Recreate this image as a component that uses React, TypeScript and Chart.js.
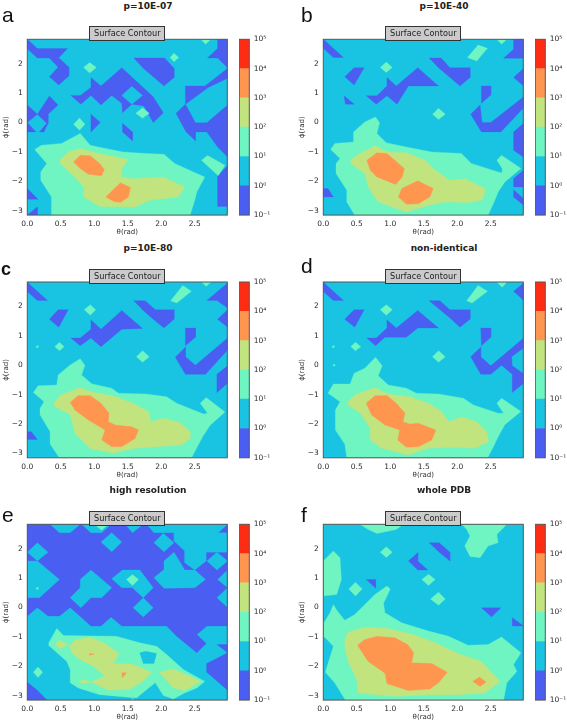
import React, { useEffect, useRef } from "react";
import { Chart, registerables } from "chart.js";

Chart.register(...registerables);

type Poly = number[][];

const xTicks = [0, 0.5, 1, 1.5, 2, 2.5];
const yTicks = [-3, -2, -1, 0, 1, 2];
const thetaRange = [0, 2.985];
const phiRange = [-3.145, 2.825];
const levels = [0.1, 1, 10, 100, 1000, 10000, 100000];
const superscripts = ["10⁻¹", "10⁰", "10¹", "10²", "10³", "10⁴", "10⁵"];
const levelColors = ["#4a5ef2", "#19c4e2", "#6ef5c2", "#c2e47e", "#ff9650", "#ff2c14"];

const titles = ["p=10E-07", "p=10E-40", "p=10E-80", "non-identical", "high resolution", "whole PDB"];
const letters = ["a", "b", "c", "d", "e", "f"];

const aBlue: Poly[] = [
  [[0,2.83],[.15,2.51],[.6,2.51],[.47,2.2],[.62,1.88],[.62,1.58],[.47,1.27],[.33,1.55],[.46,1.88],[.33,2.19],[.15,2.19],[0,2.5]],
  [[.65,.92],[.79,.92],[.95,1.19],[.95,1.53],[1.1,1.24],[1.41,1.86],[1.88,.87],[2.03,.33],[1.88,-.01],[1.74,.56],[1.56,.62],[1.42,.33],[1.41,.65],[1.26,.92],[1.1,.59],[.95,.92],[.8,.62]],
  [[1.59,2.19],[2.05,2.19],[2.19,1.84],[2.19,1.53],[2.04,1.24],[1.88,1.55],[1.73,1.84]],
  [[2.36,1.24],[2.65,1.24],[2.83,1.55],[2.99,1.84],[2.99,1.5],[2.7,1.19],[2.36,.62],[2.51,-.01],[2.68,-.01],[2.99,.59],[2.99,-1.17],[2.84,-.83],[2.68,-.32],[2.51,-.32],[2.51,-.62],[2.37,-.32],[2.22,.31],[2.36,.62]],
  [[2.84,2.83],[2.99,2.83],[2.99,1.86],[2.84,2.19],[2.69,2.19],[2.84,2.51]],
  [[0,.59],[.15,.28],[0,0]],
  [[.15,.28],[.33,.9],[.46,.59],[.31,.28],[.31,-.03],[.25,-.32],[.18,-.32],[.29,-.03]],
  [[0,0],[.13,-.32],[0,-.32]],
  [[.95,.28],[1.09,0],[.95,-.32]],
  [[1.42,-.03],[1.57,-.32],[1.57,-.62],[1.42,-.32]],
  [[2.84,-1.81],[2.99,-1.47],[2.99,-2.85],[2.84,-2.85]],
  [[0,-2.24],[.16,-2.61],[0,-2.61]],
  [[0,-3.14],[.15,-2.87],[.15,-3.14]],
];
const aHoles: Poly[] = [[[1.56,1.23],[1.72,.92],[1.56,.62],[1.41,.92]]];
const aGreen: Poly[] = [
  [[1.72,.5],[1.82,.31],[1.72,.14],[1.62,.31]],
  [[2.13,2.21],[2.19,2.35],[2.26,2.21],[2.19,2.06]],
  [[.84,1.87],[.93,2.04],[1.03,1.87],[.93,1.68]],
  [[2.59,2.83],[2.74,2.83],[2.66,2.66]],
  [[.69,-.06],[.78,.15],[.86,-.06],[.78,-.26]],
  [[.11,-.92],[.21,-.77],[.51,-.71],[.79,-.37],[.94,-.77],[1.06,-.83],[1.43,-1.0],[1.78,-1.05],[2.04,-1.08],[2.2,-1.39],[2.53,-1.73],[2.65,-1.85],[2.53,-2.36],[2.5,-2.64],[2.43,-3.15],[.36,-3.15],[.36,-2.53],[.2,-1.96],[.2,-1.68],[.29,-1.39]],
  [[2.6,-1.28],[2.69,-1.12],[2.95,-1.45],[2.85,-1.81]],
];
const aLime: Poly[] = [
  [[.49,-1.28],[.61,-1.0],[.79,-.88],[1.08,-1.05],[1.51,-1.26],[1.41,-1.56],[1.41,-1.85],[1.58,-1.91],[2.03,-1.85],[2.35,-2.19],[2.25,-2.53],[1.83,-2.64],[1.61,-2.87],[1.08,-2.85],[.84,-2.53],[.84,-2.19],[.71,-1.85],[.49,-1.39]],
];
const aOrange: Poly[] = [
  [[.69,-1.34],[.79,-1.11],[.94,-1.13],[1.08,-1.39],[1.15,-1.6],[1.11,-1.81],[.91,-1.76],[.79,-1.56]],
  [[1.17,-2.53],[1.39,-2.05],[1.54,-2.21],[1.51,-2.53],[1.39,-2.72],[1.29,-2.68]],
];

const bBlue: Poly[] = [
  [[0,2.83],[.3,2.21],[.15,2.21],[0,2.52]],
  [[.32,1.55],[.46,1.86],[.61,1.86],[.46,1.27]],
  [[.31,.91],[.46,.62],[.33,.62]],
  [[.64,.91],[.8,.91],[.95,1.24],[.95,1.53],[1.09,1.24],[1.41,1.86],[1.72,1.24],[1.27,1.24],[1.1,.62],[.95,.91],[.79,.62]],
  [[1.58,2.19],[1.76,2.19],[1.89,1.86],[2.19,1.86],[2.19,1.53],[2.04,1.24],[1.89,1.53],[1.72,1.86]],
  [[2.36,1.24],[2.5,1.24],[2.5,.93],[2.36,.65]],
  [[2.84,2.83],[2.99,2.83],[2.99,2.18],[2.69,2.18],[2.84,2.49]],
  [[2.84,1.53],[2.99,1.84],[2.99,1.24]],
  [[2.2,.28],[2.34,.59],[2.37,0],[2.5,0],[2.99,.87],[2.99,.5],[2.65,-.32],[2.36,-.32]],
  [[2.84,-.32],[2.99,-.03],[2.99,-1.18],[2.84,-.94]],
  [[2.84,-1.9],[2.99,-1.62],[2.99,-2.19],[2.84,-2.19]],
  [[2.84,-2.28],[2.99,-2.59],[2.99,-2.81],[2.84,-2.53]],
  [[0,-2.24],[.07,-2.24],[.15,-2.53],[0,-2.53]],
];
const bGreen: Poly[] = [
  [[2.15,2.21],[2.31,2.63],[2.45,2.52],[2.29,2.09]],
  [[2.59,2.83],[2.74,2.83],[2.66,2.66]],
  [[.85,1.87],[.94,2.05],[1.03,1.87],[.94,1.7]],
  [[1.63,.28],[1.72,.48],[1.82,.28],[1.72,.1]],
  [[.11,-.92],[.17,-.71],[.45,-.66],[.45,-.32],[.62,.02],[.78,.19],[.84,-.01],[.8,-.37],[.94,-.69],[1.24,-.83],[1.62,-1.0],[2.06,-1.05],[2.21,-1.39],[2.61,-1.68],[2.67,-1.71],[2.67,-1.56],[2.59,-1.28],[2.66,-1.11],[2.95,-1.56],[2.71,-2.02],[2.61,-2.36],[2.56,-2.64],[2.46,-3.15],[.47,-3.15],[.35,-2.7],[.35,-2.3],[.19,-1.73],[.19,-1.39],[.25,-1.22]],
];
const bLime: Poly[] = [
  [[.41,-1.28],[.5,-1.11],[.77,-.79],[.97,-1.0],[1.24,-1.03],[1.52,-1.28],[1.67,-1.62],[1.82,-1.85],[1.87,-1.96],[2.11,-1.91],[2.41,-2.24],[2.41,-2.41],[2.36,-2.64],[2.16,-2.72],[1.82,-2.7],[1.57,-2.81],[1.24,-3.04],[.82,-2.7],[.67,-2.19],[.62,-1.73],[.41,-1.39]],
];
const bOrange: Poly[] = [
  [[.65,-1.28],[.8,-1.03],[.95,-1.05],[1.21,-1.56],[1.18,-1.85],[1.08,-2.11],[.8,-1.85],[.7,-1.62]],
  [[1.12,-2.53],[1.17,-2.24],[1.41,-1.98],[1.64,-2.24],[1.59,-2.53],[1.42,-2.76],[1.24,-2.78]],
];

const cBlue: Poly[] = [
  [[0,2.82],[.3,2.2],[.15,2.2],[0,2.5]],
  [[.33,1.56],[.46,1.88],[.61,1.88],[.47,1.29]],
  [[.65,.92],[.79,.92],[.95,1.22],[.95,1.54],[1.1,1.22],[1.41,1.86],[1.72,1.25],[1.41,1.22],[1.1,.63],[.95,.92],[.79,.66]],
  [[1.59,2.19],[1.76,2.19],[1.91,1.88],[2.19,1.88],[2.19,1.56],[2.04,1.26],[1.88,1.56],[1.73,1.86]],
  [[2.36,1.26],[2.51,1.26],[2.51,.95],[2.36,.66]],
  [[2.21,.27],[2.36,.61],[2.36,.29],[2.51,0],[2.99,.92],[2.99,.52],[2.66,-.31],[2.36,-.31]],
  [[2.68,2.2],[2.99,2.79],[2.99,1.94],[2.83,2.2]],
  [[2.84,1.56],[2.99,1.88],[2.99,1.29]],
  [[2.83,-.31],[2.99,-.02],[2.99,-.61],[2.83,-.93]],
  [[0,-2.26],[.06,-2.26],[.15,-2.52],[0,-2.52]],
];
const cGreen: Poly[] = [
  [[2.14,2.19],[2.32,2.71],[2.45,2.51],[2.23,2.11]],
  [[2.6,2.82],[2.74,2.82],[2.67,2.68]],
  [[.85,1.88],[.94,2.05],[1.02,1.88],[.94,1.7]],
  [[.41,.63],[.48,.78],[.55,.63],[.48,.49]],
  [[.13,.63],[.15,.68],[.17,.63],[.15,.58]],
  [[1.63,.29],[1.72,.49],[1.82,.29],[1.72,.1]],
  [[.09,-.93],[.16,-.7],[.44,-.67],[.46,-.33],[.64,.01],[.79,.22],[.86,-.01],[.81,-.33],[.96,-.63],[1.26,-.78],[1.36,-.95],[1.78,-.98],[2.08,-1.07],[2.23,-1.29],[2.63,-1.66],[2.69,-1.63],[2.58,-1.29],[2.67,-1.1],[2.95,-1.59],[2.73,-2.04],[2.63,-2.38],[2.55,-2.72],[2.45,-3.15],[.48,-3.15],[.34,-2.68],[.34,-2.26],[.19,-1.68],[.19,-1.46],[.25,-1.24]],
];
const cLime: Poly[] = [
  [[.4,-1.27],[.5,-1.01],[.79,-.76],[.98,-.92],[1.28,-1.04],[1.58,-1.29],[1.81,-1.58],[1.84,-1.92],[2.03,-1.8],[2.28,-1.95],[2.43,-2.26],[2.43,-2.49],[2.3,-2.71],[1.93,-2.77],[1.58,-2.83],[1.28,-2.99],[.94,-2.83],[.71,-2.31],[.64,-1.68],[.4,-1.39]],
];
const cOrange: Poly[] = [
  [[.64,-1.27],[.76,-1.03],[.94,-1.04],[1.1,-1.29],[1.22,-1.63],[1.21,-1.92],[1.31,-2.03],[1.56,-2.09],[1.66,-2.2],[1.61,-2.49],[1.41,-2.77],[1.26,-2.77],[1.11,-2.54],[1.16,-2.2],[.91,-1.86],[.71,-1.52]],
];

const dBlue: Poly[] = [
  [[0,2.82],[.3,2.2],[.15,2.2],[0,2.5]],
  [[.32,1.56],[.46,1.88],[.61,1.88],[.47,1.29]],
  [[.65,.92],[.79,.92],[.95,1.26],[.95,1.54],[1.09,1.26],[1.41,1.86],[1.72,1.26],[1.41,1.26],[1.24,.95],[.92,.95],[.78,.66]],
  [[1.58,2.19],[1.74,2.19],[1.89,1.88],[2.19,1.88],[2.19,1.56],[2.04,1.29],[1.89,1.6]],
  [[2.35,1.26],[2.5,1.26],[2.5,.95],[2.36,.66]],
  [[2.2,.29],[2.35,.61],[2.35,.29],[2.5,-.02],[2.99,.92],[2.99,.58],[2.81,.29],[2.82,-.02],[2.99,-.29],[2.99,-.61],[2.82,-.93],[2.82,-.31],[2.66,0],[2.5,-.31],[2.35,-.31]],
  [[2.84,2.51],[2.99,2.79],[2.99,2.2]],
];
const dGreen: Poly[] = [
  [[2.14,2.19],[2.31,2.71],[2.45,2.51],[2.22,2.11]],
  [[2.59,2.82],[2.74,2.82],[2.67,2.65]],
  [[.85,1.88],[.94,2.05],[1.03,1.88],[.94,1.7]],
  [[.41,.63],[.48,.78],[.56,.63],[.48,.49]],
  [[.13,.63],[.15,.68],[.17,.63],[.15,.58]],
  [[.14,0],[.16,.04],[.18,0],[.16,-.04]],
  [[1.63,.29],[1.72,.49],[1.82,.29],[1.72,.1]],
  [[.07,-.95],[.15,-.64],[.4,-.64],[.46,-.27],[.62,-.1],[.78,.27],[.88,-.02],[.82,-.36],[.97,-.67],[1.24,-.78],[1.39,-.95],[1.72,-.98],[2.09,-1.12],[2.24,-1.35],[2.61,-1.63],[2.69,-1.63],[2.59,-1.29],[2.66,-1.12],[2.95,-1.57],[2.71,-2.02],[2.61,-2.43],[2.54,-2.77],[2.45,-3.15],[.35,-3.15],[.32,-2.68],[.18,-2.2],[.18,-1.52],[.25,-1.24]],
];
const dLime: Poly[] = [
  [[.37,-1.24],[.47,-1.01],[.77,-.76],[.97,-.98],[1.29,-1.07],[1.57,-1.29],[1.77,-1.58],[1.87,-1.92],[2.06,-1.75],[2.29,-1.92],[2.44,-2.26],[2.47,-2.6],[2.26,-2.82],[1.92,-2.79],[1.57,-2.82],[1.27,-3.05],[.87,-2.82],[.7,-2.54],[.7,-2.14],[.55,-1.63],[.37,-1.35]],
];
const dOrange: Poly[] = [
  [[.64,-1.29],[.77,-1.04],[.95,-1.03],[1.09,-1.29],[1.22,-1.63],[1.19,-1.92],[1.29,-2.0],[1.42,-1.97],[1.68,-2.2],[1.62,-2.54],[1.42,-2.77],[1.24,-2.79],[1.11,-2.54],[1.14,-2.2],[.92,-2.03],[.72,-1.69]],
];

const eBlue: Poly[] = [
  [[0,2.83],[2.99,2.83],[2.99,-.63],[2.68,-.63],[2.53,-.92],[2.67,-1.22],[2.53,-1.54],[2.23,-.98],[2.08,-.63],[1.41,-.63],[1.25,-.32],[1.1,-.63],[.95,-.63],[.8,-.32],[.64,0],[.48,-.29],[.31,-.29],[.15,0],[0,-.29]],
  [[2.83,-1.26],[2.99,-1.26],[2.99,-1.54]],
  [[2.99,-1.54],[2.68,-1.9],[2.68,-2.2],[2.99,-2.81]],
  [[0,-2.54],[.15,-2.81],[.29,-3.14],[0,-3.14]],
];
const eHoles: Poly[] = [
  [[0,1.58],[.15,1.58],[.48,.95],[.18,.33],[0,.33]],
  [[0,1.88],[.15,2.2],[.31,1.88],[.15,1.58]],
  [[.34,2.83],[.48,2.54],[.64,2.54],[.79,2.83]],
  [[.81,2.83],[.95,2.54],[1.11,2.54],[1.25,2.83]],
  [[1.46,2.83],[1.57,2.54],[1.73,2.83]],
  [[1.78,2.83],[1.89,2.54],[2.19,2.54],[2.19,2.26],[2.35,1.92],[2.35,1.52],[2.5,1.27],[2.67,1.58],[2.67,1.88],[2.99,1.88],[2.99,2.54],[2.85,2.54],[2.99,2.83]],
  [[2.68,1.58],[2.83,1.88],[2.99,1.58],[2.83,1.27]],
  [[1.1,2.22],[1.26,2.54],[1.41,2.22],[1.26,1.89]],
  [[1.89,2.2],[2.03,2.52],[2.19,2.2],[2.04,1.89]],
  [[1.89,1.01],[2.04,1.29],[2.04,1.58],[2.19,1.88],[2.35,1.27],[2.5,1.27],[2.66,.95],[2.5,.67],[2.04,.65]],
  [[1.26,.98],[1.42,1.27],[1.68,1.27],[1.88,.67],[1.73,.33],[1.57,.67],[1.41,.67]],
  [[.64,.33],[.79,.67],[.79,.95],[.95,1.27],[1.26,.67],[1.11,.33],[.95,.33],[.8,-.01]],
  [[1.58,-.01],[1.73,.33],[1.88,-.01],[1.73,-.32]],
  [[2.84,.95],[2.99,1.27],[2.99,0],[2.83,.33],[2.99,.67]],
];
const eGreen: Poly[] = [
  [[.32,-1.2],[.44,-.71],[.54,-.95],[1.33,-.98],[1.68,-1.2],[1.93,-1.32],[2.08,-1.6],[2.33,-2.11],[2.65,-2.51],[2.53,-2.73],[2.35,-2.9],[2.18,-3.11],[2.03,-2.99],[1.91,-2.56],[1.78,-2.79],[1.63,-3.07],[1.08,-2.96],[.76,-2.73],[.64,-2.56],[.64,-2.11],[.59,-1.83],[.32,-1.29]],
  [[.09,-2.2],[.16,-2.02],[.23,-2.2],[.16,-2.38]],
  [[1.48,.95],[1.57,1.12],[1.66,.95],[1.57,.75]],
  [[1.03,2.77],[1.11,2.62],[1.18,2.77]],
  [[.13,.65],[.15,.7],[.17,.65],[.15,.6]],
  [[1.55,-3.14],[1.57,-3.08],[1.59,-3.14]],
];
const eGreenHoles: Poly[] = [
  [[1.68,-1.54],[1.77,-1.49],[1.93,-1.56],[1.89,-1.9],[1.73,-1.9]],
];
const eLime: Poly[] = [
  [[.41,-1.26],[.48,-1.11],[.61,-1.26],[.49,-1.39]],
  [[.63,-1.28],[.73,-1.09],[.94,-1.01],[1.16,-1.22],[1.37,-1.56],[1.29,-1.9],[1.56,-1.92],[1.86,-2.2],[1.71,-2.54],[1.51,-2.79],[1.21,-2.81],[.95,-2.53],[1.16,-2.33],[.99,-2.0],[.84,-1.83],[.71,-1.65],[.66,-1.54]],
  [[.76,-2.51],[.84,-2.45],[.95,-2.54],[.84,-2.59]],
  [[1.97,-2.2],[2.18,-2.09],[2.38,-2.28],[2.59,-2.51],[2.35,-2.82],[2.18,-2.73]],
];
const eOrange: Poly[] = [
  [[.93,-1.56],[1.0,-1.58],[.93,-1.62]],
  [[1.41,-2.22],[1.48,-2.22],[1.42,-2.39]],
];

const fBlue: Poly[] = [
  [[1.58,2.2],[1.73,2.2],[1.89,1.88],[1.89,1.58],[1.73,1.88]],
  [[1.27,1.58],[1.41,1.86],[1.41,1.58],[1.56,1.27],[1.41,1.27]],
  [[.64,.95],[.78,.95],[.78,.66]],
  [[2.36,-.01],[2.65,-.01],[2.51,-.32]],
  [[2.82,-.35],[2.99,-.63],[2.82,-.63]],
];
const fGreen: Poly[] = [
  [[.53,2.85],[1.21,2.85],[1.09,2.65],[.8,2.51],[.67,2.65]],
  [[2.06,2.85],[2.75,2.85],[2.59,2.48],[2.61,2.2],[2.46,2.09],[2.34,1.69],[2.19,1.73],[2.11,2.09],[2.19,2.43],[2.14,2.65]],
  [[0,1.58],[.15,1.92],[.25,1.69],[.27,.95],[.2,.44],[0,.39]],
  [[.85,1.88],[.94,2.06],[1.03,1.88],[.94,1.7]],
  [[.38,.63],[.48,.86],[.58,.63],[.48,.39]],
  [[1.47,.95],[1.57,1.13],[1.67,.95],[1.57,.75]],
  [[1.6,.29],[1.72,.52],[1.82,.29],[1.72,.08]],
  [[0,-.98],[.01,-.52],[.1,-.18],[.15,.1],[.21,-.12],[.32,-.43],[.47,-.24],[.62,.1],[.77,.44],[.95,.73],[1.0,.63],[.9,.14],[.92,-.18],[1.17,-.52],[1.57,-.8],[1.87,-.98],[2.16,-1.28],[2.46,-1.26],[2.66,-1.0],[2.95,-1.54],[2.84,-1.94],[2.89,-2.17],[2.74,-2.56],[2.69,-3.15],[.33,-3.15],[.17,-2.56],[.03,-2.2],[.15,-1.32],[.03,-1.03]],
];
const fLime: Poly[] = [
  [[.32,-1.09],[.37,-.84],[.62,-.67],[.97,-.71],[1.34,-.92],[1.67,-1.2],[2.01,-1.56],[2.36,-1.83],[2.64,-2.51],[2.41,-2.9],[2.01,-2.96],[1.57,-2.96],[1.07,-3.02],[.52,-2.9],[.5,-2.45],[.37,-1.83],[.32,-1.32]],
];
const fOrange: Poly[] = [
  [[.51,-1.28],[.62,-1.09],[.8,-.98],[1.07,-1.03],[1.26,-1.26],[1.35,-1.54],[1.32,-1.88],[1.62,-1.9],[1.85,-2.2],[1.72,-2.56],[1.59,-2.77],[1.27,-2.82],[.95,-2.59],[.92,-2.23],[.67,-1.83]],
  [[2.23,-2.51],[2.33,-2.36],[2.43,-2.53],[2.34,-2.68]],
];

// Painted bottom to top: [colour index, polygons]
const panelLayers: [number, Poly[]][][] = [
  [[0, aBlue], [1, aHoles], [2, aGreen], [3, aLime], [4, aOrange]],
  [[0, bBlue], [2, bGreen], [3, bLime], [4, bOrange]],
  [[0, cBlue], [2, cGreen], [3, cLime], [4, cOrange]],
  [[0, dBlue], [2, dGreen], [3, dLime], [4, dOrange]],
  [[0, eBlue], [1, eHoles], [2, eGreen], [1, eGreenHoles], [3, eLime], [4, eOrange]],
  [[0, fBlue], [2, fGreen], [3, fLime], [4, fOrange]],
];

// page layout of the six panels
const plotLefts = [27.3, 323.3, 27.3, 323.3, 27.3, 323.3];
const plotTops = [39.3, 39.3, 282, 282, 524.3, 524.3];
const plotW = 200;
const plotH = 175.8;
const textColor = "#2a2a2a";
const tickFont = { family: "DejaVu Sans", size: 7.5 };
const labelFont = { family: "DejaVu Sans", size: 7 };

const frame = {
  id: "frame",
  afterDraw(chart: any) {
    const { ctx, chartArea: a } = chart;
    ctx.save();
    ctx.strokeStyle = "#555";
    ctx.lineWidth = 1;
    ctx.strokeRect(a.left, a.top, a.right - a.left, a.bottom - a.top);
    ctx.restore();
  },
};

function closed(poly: Poly) {
  return [...poly, poly[0]].map(([x, y]) => ({ x, y }));
}

function polyDataset(poly: Poly, color: string) {
  return {
    data: closed(poly),
    showLine: true,
    fill: "shape",
    backgroundColor: color,
    borderColor: color,
    borderWidth: 0.3,
    pointRadius: 0,
    tension: 0,
  };
}

function Contour({ index }: { index: number }) {
  const ref = useRef<HTMLCanvasElement>(null);
  const left = plotLefts[index];
  const top = plotTops[index];
  const canvasLeft = index % 2 === 0 ? 0 : 296;
  const canvasTop = Math.floor(top) - 17;
  const canvasW = 232;
  const canvasH = 219;
  useEffect(() => {
    const [x0, x1] = thetaRange;
    const [y0, y1] = phiRange;
    const datasets: any[] = [polyDataset([[x0, y1], [x1, y1], [x1, y0], [x0, y0]], levelColors[1])];
    for (const [c, polys] of panelLayers[index]) {
      for (const p of polys) datasets.push(polyDataset(p, levelColors[c]));
    }
    // Chart.js paints the first dataset last, so the bottom layer goes at the end.
    datasets.reverse();
    const padTop = top - canvasTop;
    const chart = new Chart(ref.current!, {
      type: "scatter",
      data: { datasets },
      plugins: [frame],
      options: {
        animation: false,
        responsive: false,
        events: [],
        layout: { padding: { left: 0, top: padTop, right: canvasW - (left - canvasLeft) - plotW, bottom: 0 } },
        plugins: { legend: { display: false }, tooltip: { enabled: false } },
        scales: {
          x: {
            type: "linear",
            min: x0,
            max: x1,
            grid: { display: false, drawTicks: true, tickLength: 3, tickColor: "#444" } as any,
            border: { display: false },
            afterBuildTicks: (s: any) => { s.ticks = xTicks.map((value) => ({ value })); },
            afterFit: (s: any) => { s.height = canvasH - padTop - plotH; },
            ticks: { color: textColor, font: tickFont, padding: 1.5, maxRotation: 0, autoSkip: false, callback: (v: any) => Number(v).toFixed(1) },
            title: { display: true, text: "θ(rad)", color: textColor, font: labelFont, padding: { top: 0, bottom: 4.5 } },
          },
          y: {
            type: "linear",
            min: y0,
            max: y1,
            grid: { display: false, drawTicks: true, tickLength: 3, tickColor: "#444" } as any,
            border: { display: false },
            afterBuildTicks: (s: any) => { s.ticks = yTicks.map((value) => ({ value })); },
            afterFit: (s: any) => { s.width = left - canvasLeft; },
            ticks: { color: textColor, font: tickFont, padding: 1.5, autoSkip: false, callback: (v: any) => String(v).replace("-", "−") },
            title: { display: true, text: "ϕ(rad)", color: textColor, font: labelFont, padding: { top: 1.5, bottom: 0 } },
          },
        },
      } as any,
    });
    return () => chart.destroy();
  }, [index]);
  return (
    <canvas
      ref={ref}
      width={canvasW}
      height={canvasH}
      style={{ position: "absolute", left: canvasLeft, top: canvasTop, width: canvasW, height: canvasH }}
    />
  );
}

function Colorbar({ index }: { index: number }) {
  const ref = useRef<HTMLCanvasElement>(null);
  const top = plotTops[index];
  const canvasLeft = Math.floor(plotLefts[index] + plotW + 12);
  const canvasTop = Math.floor(top) - 6;
  const canvasW = 40;
  const canvasH = Math.ceil(plotH) + 13;
  useEffect(() => {
    const padTop = top - canvasTop;
    const chart = new Chart(ref.current!, {
      type: "bar",
      data: {
        labels: ["level"],
        datasets: levelColors.map((color, i) => ({
          data: [[levels[i], levels[i + 1]]],
          backgroundColor: color,
          borderWidth: 0,
          grouped: false,
          barPercentage: 1,
          categoryPercentage: 1,
        })),
      } as any,
      plugins: [frame],
      options: {
        animation: false,
        responsive: false,
        events: [],
        layout: { padding: { left: 0.3, top: padTop, right: 0, bottom: canvasH - padTop - plotH } },
        plugins: { legend: { display: false }, tooltip: { enabled: false } },
        scales: {
          x: { display: false },
          y: {
            type: "logarithmic",
            position: "right",
            min: levels[0],
            max: levels[levels.length - 1],
            grid: { display: false, drawTicks: true, tickLength: 3, tickColor: "#444" } as any,
            border: { display: false },
            afterBuildTicks: (s: any) => { s.ticks = levels.map((value) => ({ value, major: true })); },
            afterFit: (s: any) => { s.width = canvasW - 10.3; },
            ticks: {
              color: textColor,
              font: tickFont,
              padding: 1.5,
              autoSkip: false,
              callback: (v: any) => superscripts[levels.indexOf(Number(v))],
            },
          },
        },
      } as any,
    });
    return () => chart.destroy();
  }, [index]);
  return (
    <canvas
      ref={ref}
      width={canvasW}
      height={canvasH}
      style={{ position: "absolute", left: canvasLeft, top: canvasTop, width: canvasW, height: canvasH }}
    />
  );
}

const letterBoxes: { left: number; top: number; size: number; bold?: boolean }[] = [
  { left: 2, top: 3, size: 21 },
  { left: 301, top: 3, size: 21 },
  { left: 1, top: 257, size: 18, bold: true },
  { left: 301, top: 254, size: 21 },
  { left: 2, top: 503, size: 21 },
  { left: 301, top: 503, size: 21 },
];

const titleCentres = [148, 444, 148, 444, 148, 444];
const titleMiddles = [5.5, 5.5, 248, 248, 490, 490];

export default function App() {
  return (
    <div style={{ position: "absolute", left: 0, top: 0, width: 567, height: 723, background: "#fff", overflow: "hidden" }}>
      {titles.map((t, i) => (
        <React.Fragment key={t}>
          <Contour index={i} />
          <Colorbar index={i} />
          <div
            style={{
              position: "absolute",
              left: titleCentres[i] - 60,
              width: 120,
              top: titleMiddles[i] - 7,
              height: 14,
              lineHeight: "14px",
              textAlign: "center",
              fontFamily: "'DejaVu Sans'",
              fontWeight: 700,
              fontSize: 9,
              color: "#222",
            }}
          >
            {t}
          </div>
          <div
            style={{
              position: "absolute",
              left: letterBoxes[i].left,
              top: letterBoxes[i].top,
              fontFamily: "'Liberation Sans'",
              fontSize: letterBoxes[i].size,
              fontWeight: letterBoxes[i].bold ? 700 : 400,
              lineHeight: "24px",
              color: "#111",
            }}
          >
            {letters[i]}
          </div>
          <div
            style={{
              position: "absolute",
              left: plotLefts[i] + plotW / 2 - 38,
              top: plotTops[i] - 13.3,
              width: 76,
              height: 15,
              boxSizing: "border-box",
              border: "1px solid #333",
              background: "#cbcbcb",
              fontFamily: "'DejaVu Sans'",
              fontSize: 8.2,
              lineHeight: "13px",
              textAlign: "center",
              color: "#222",
              whiteSpace: "nowrap",
            }}
          >
            Surface Contour
          </div>
        </React.Fragment>
      ))}
    </div>
  );
}
